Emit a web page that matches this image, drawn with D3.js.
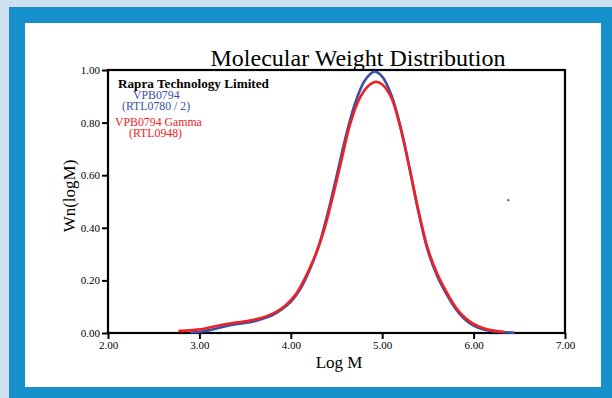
<!DOCTYPE html>
<html>
<head>
<meta charset="utf-8">
<script src="https://cdn.jsdelivr.net/npm/d3@7"></script>
<style>
  body { margin: 0; background: #cfe1f0; }
  svg { display: block; }
  text { font-family: "Liberation Serif", "Times New Roman", serif; }
</style>
</head>
<body>
<div id="chart"></div>
<script>
// Chart data
const xTicks = [2, 3, 4, 5, 6, 7];
const yTicks = [0, 0.2, 0.4, 0.6, 0.8, 1.0];

// VPB0794 (RTL0780 / 2) - blue
const blueLogM = [2.90, 3.00, 3.10, 3.20, 3.30, 3.40, 3.50, 3.60, 3.70, 3.80, 3.90, 4.00, 4.10, 4.20, 4.30, 4.40, 4.50, 4.60, 4.70, 4.80, 4.87, 4.92, 5.00, 5.10, 5.20, 5.30, 5.40, 5.50, 5.60, 5.70, 5.80, 5.90, 6.00, 6.10, 6.20, 6.30, 6.45];
const blueWn   = [0.002, 0.004, 0.010, 0.018, 0.027, 0.033, 0.038, 0.045, 0.055, 0.068, 0.090, 0.118, 0.165, 0.235, 0.325, 0.450, 0.595, 0.745, 0.870, 0.955, 0.985, 0.994, 0.975, 0.905, 0.785, 0.625, 0.455, 0.312, 0.218, 0.150, 0.093, 0.053, 0.028, 0.014, 0.007, 0.004, 0.001];

// VPB0794 Gamma (RTL0948) - red
const redLogM = [2.77, 2.85, 2.95, 3.05, 3.15, 3.25, 3.35, 3.45, 3.55, 3.65, 3.75, 3.85, 3.95, 4.05, 4.15, 4.25, 4.35, 4.45, 4.55, 4.65, 4.75, 4.85, 4.93, 5.00, 5.10, 5.20, 5.30, 5.40, 5.50, 5.60, 5.70, 5.80, 5.90, 6.00, 6.10, 6.20, 6.34];
const redWn   = [0.008, 0.009, 0.012, 0.016, 0.024, 0.031, 0.037, 0.042, 0.047, 0.055, 0.066, 0.082, 0.108, 0.145, 0.205, 0.280, 0.375, 0.505, 0.650, 0.795, 0.890, 0.940, 0.955, 0.945, 0.895, 0.780, 0.625, 0.460, 0.320, 0.227, 0.158, 0.100, 0.060, 0.035, 0.019, 0.010, 0.004];

const width = 612;
const height = 398;
const margin = { top: 70, right: 47, bottom: 65, left: 108 };
const innerWidth = width - margin.left - margin.right;
const innerHeight = height - margin.top - margin.bottom;

const svg = d3.select('#chart')
    .append('svg')
    .attr('width', width)
    .attr('height', height);

// Backgrounds: light strip, blue frame, white panel
svg.append('rect')
    .attr('x', 0).attr('y', 0)
    .attr('width', width).attr('height', height)
    .style('fill', '#cfe1f0');
svg.append('rect')
    .attr('x', 9).attr('y', 7)
    .attr('width', width - 9).attr('height', height - 7)
    .style('fill', '#1590ca');
svg.append('rect')
    .attr('x', 25).attr('y', 23)
    .attr('width', 576).attr('height', 364)
    .style('fill', '#ffffff');

const g = svg.append('g')
    .attr('transform', `translate(${margin.left}, ${margin.top})`);

const xScale = d3.scaleLinear()
    .domain([2, 7])
    .range([0, innerWidth]);

const yScale = d3.scaleLinear()
    .domain([0, 1])
    .range([innerHeight, 0]);

// Axes
const xAxis = g.append('g')
    .attr('transform', `translate(0,${innerHeight})`)
    .call(d3.axisBottom(xScale)
        .tickValues(xTicks)
        .tickSize(6)
        .tickFormat(d3.format('.2f')));

const yAxis = g.append('g')
    .call(d3.axisLeft(yScale)
        .tickValues(yTicks)
        .tickSize(6)
        .tickFormat(d3.format('.2f')));

[xAxis, yAxis].forEach(ax => {
    ax.select('.domain').remove();
    ax.selectAll('line').style('stroke', '#000').style('stroke-width', 2);
    ax.selectAll('text')
        .style('font-family', '"Liberation Serif", serif')
        .style('font-size', '11px')
        .style('fill', '#000');
});
xAxis.selectAll('text').attr('y', 8);
yAxis.selectAll('text').attr('x', -8);

// Frame around plot area
g.append('rect')
    .attr('x', 0).attr('y', 0)
    .attr('width', innerWidth).attr('height', innerHeight)
    .style('fill', 'none')
    .style('stroke', '#000')
    .style('stroke-width', 2.2);

// Curves
const line = d3.line()
    .x(d => xScale(d[0]))
    .y(d => yScale(d[1]))
    .curve(d3.curveCatmullRom.alpha(0.5));

g.append('path')
    .datum(blueLogM.map((v, i) => [v, blueWn[i]]))
    .attr('d', line)
    .style('fill', 'none')
    .style('stroke', '#3a50a6')
    .style('stroke-width', 2.6);

g.append('path')
    .datum(redLogM.map((v, i) => [v, redWn[i]]))
    .attr('d', line)
    .style('fill', 'none')
    .style('stroke', '#ee2226')
    .style('stroke-width', 2.6);

// stray dot in the original
g.append('rect')
    .attr('x', xScale(6.38) - 1).attr('y', yScale(0.505) - 1)
    .attr('width', 2).attr('height', 2)
    .style('fill', '#555');

// Title
svg.append('text')
    .attr('x', 358)
    .attr('y', 66)
    .attr('text-anchor', 'middle')
    .style('font-size', '24px')
    .text('Molecular Weight Distribution');

// Axis titles
svg.append('text')
    .attr('x', 339)
    .attr('y', 368)
    .attr('text-anchor', 'middle')
    .style('font-size', '17px')
    .text('Log M');

svg.append('text')
    .attr('transform', 'translate(75, 196) rotate(-90)')
    .attr('text-anchor', 'middle')
    .style('font-size', '17px')
    .text('Wn(logM)');

// Legend text
const legend = [
    { text: 'Rapra Technology Limited', x: 118, y: 88, color: '#000', weight: 'bold', size: 13.2 },
    { text: 'VPB0794', x: 133, y: 99, color: '#3a50a6', weight: 'normal', size: 11.8 },
    { text: '(RTL0780 / 2)', x: 122, y: 110, color: '#3a50a6', weight: 'normal', size: 11.8 },
    { text: 'VPB0794 Gamma', x: 115, y: 126, color: '#ee2226', weight: 'normal', size: 11.8 },
    { text: '(RTL0948)', x: 129, y: 137, color: '#ee2226', weight: 'normal', size: 11.8 }
];

svg.selectAll('.legend-text')
    .data(legend)
    .enter()
    .append('text')
    .attr('class', 'legend-text')
    .attr('x', d => d.x)
    .attr('y', d => d.y)
    .style('font-size', d => d.size + 'px')
    .style('font-weight', d => d.weight)
    .style('fill', d => d.color)
    .text(d => d.text);
</script>
</body>
</html>
